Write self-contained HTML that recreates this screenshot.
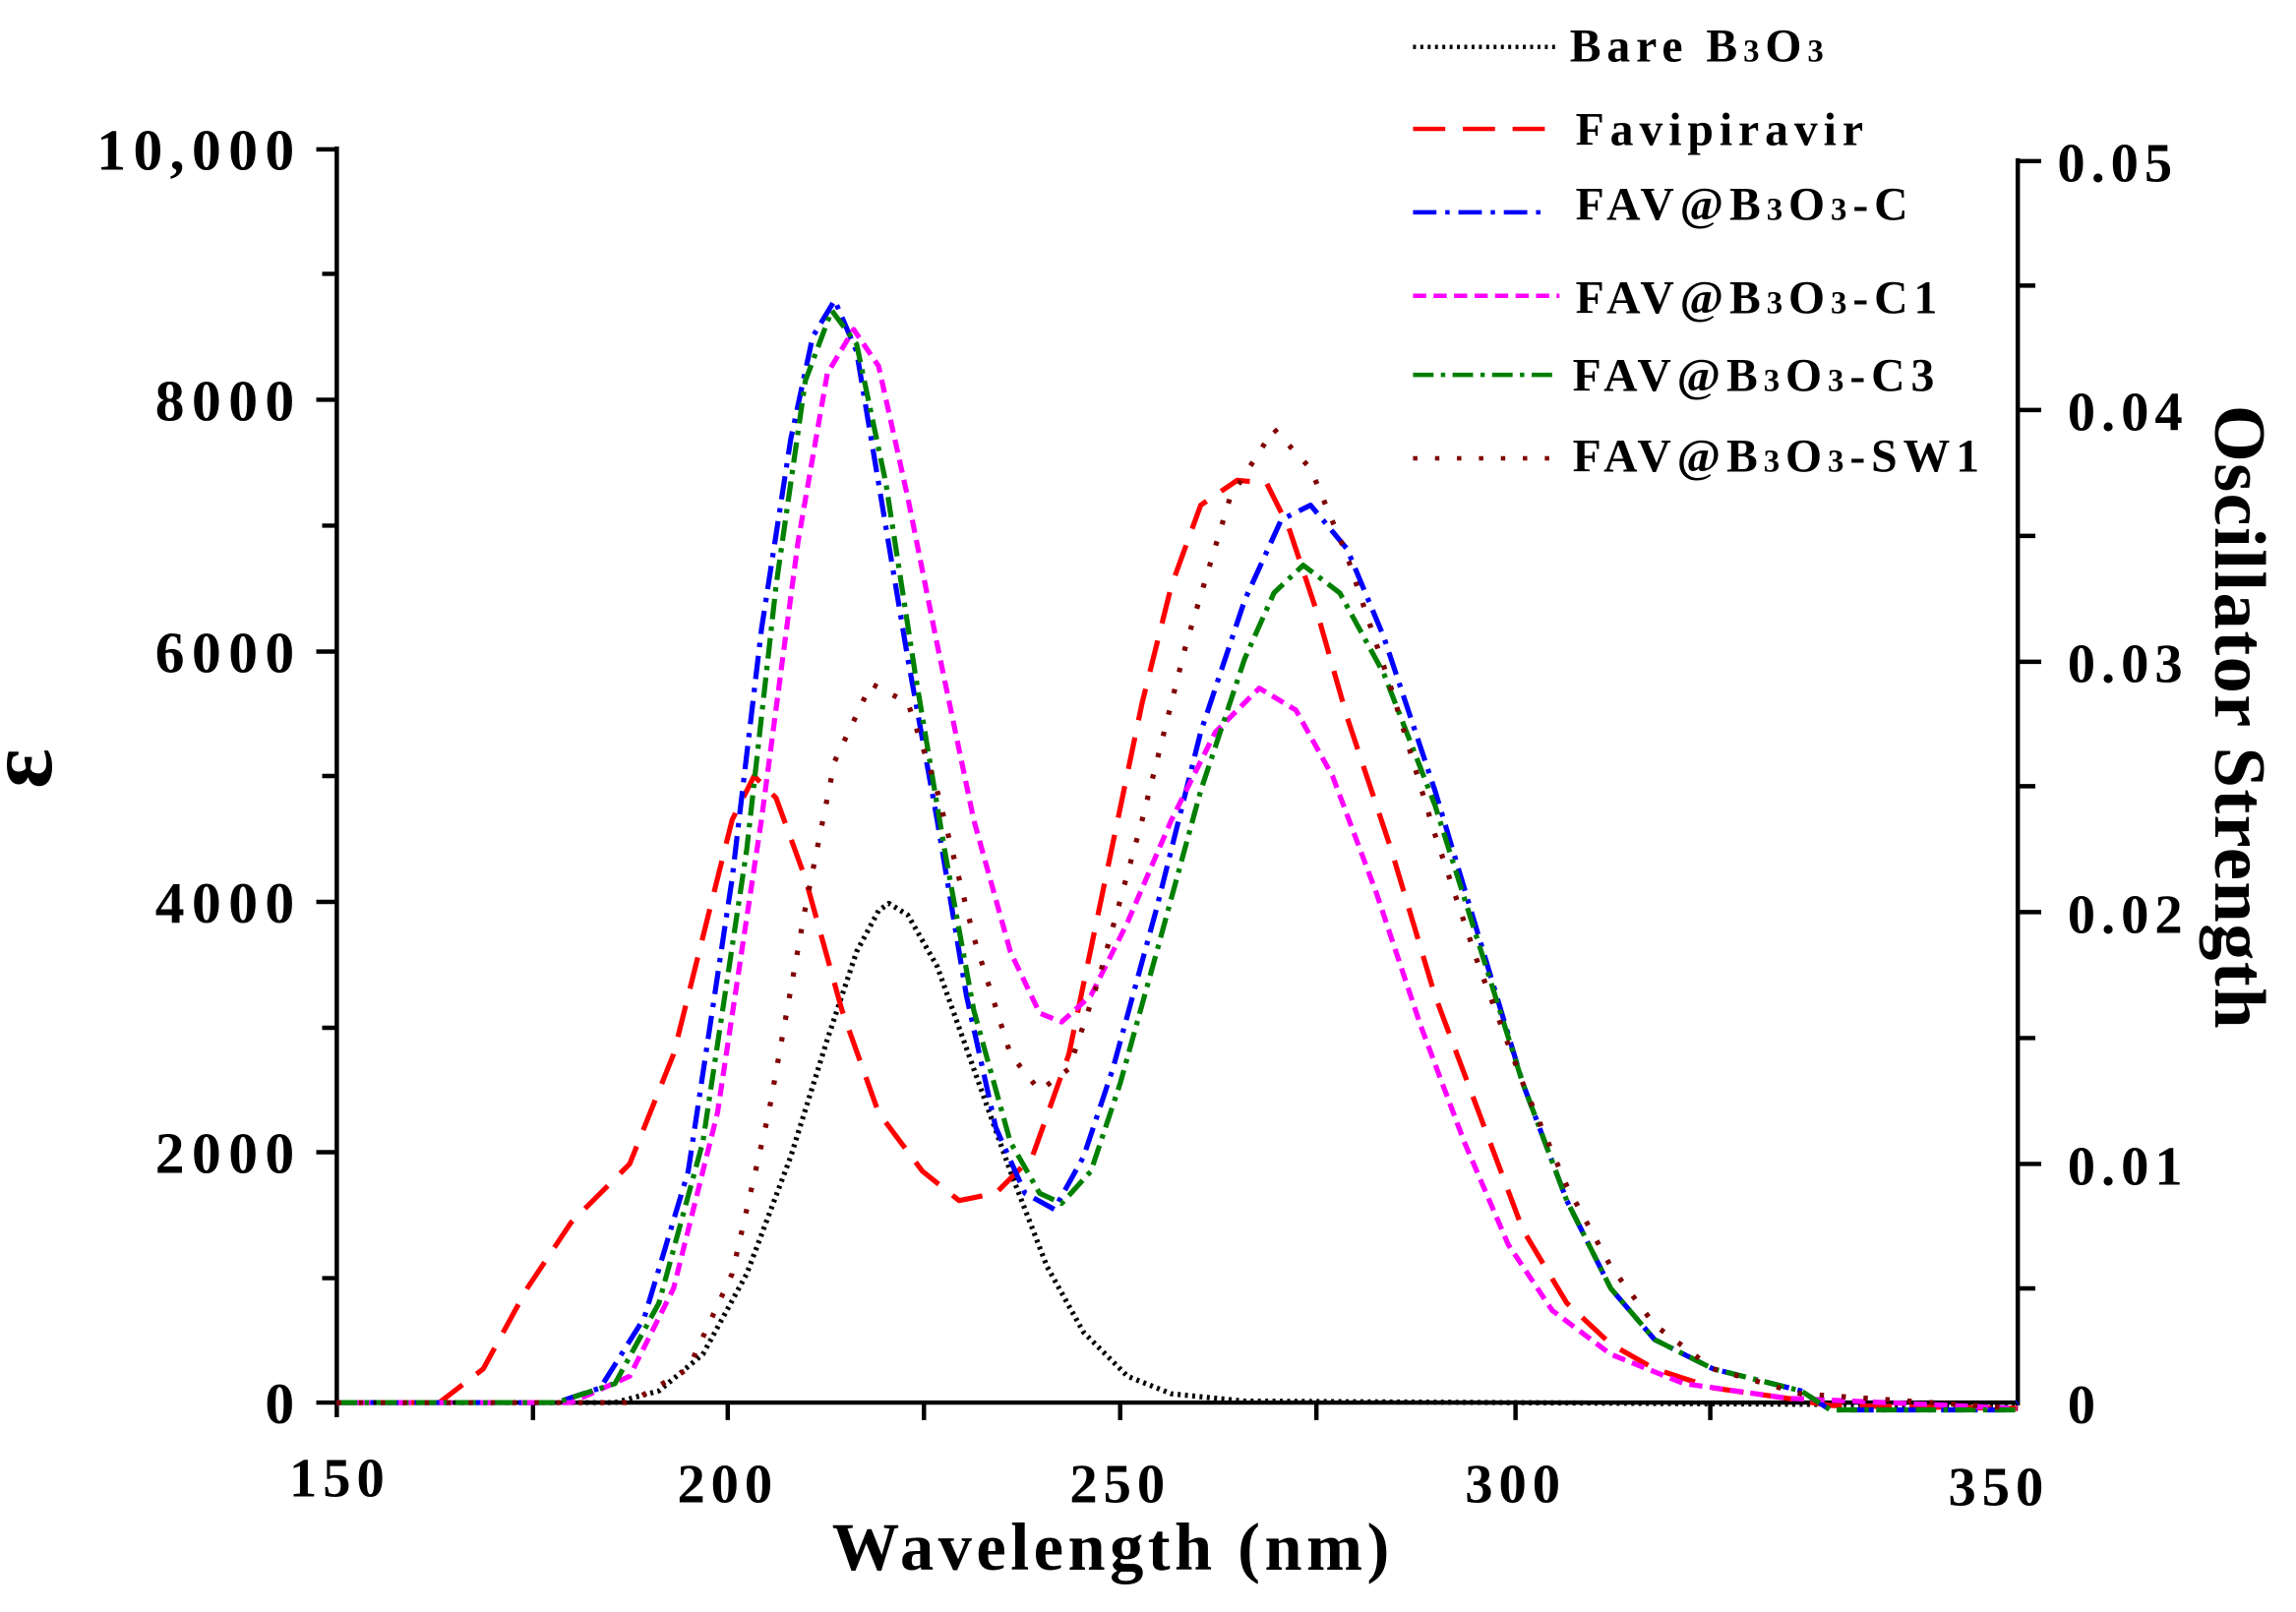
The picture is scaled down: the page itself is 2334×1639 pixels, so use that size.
<!DOCTYPE html>
<html><head><meta charset="utf-8"><style>html,body{margin:0;padding:0;background:#fff}svg{display:block}</style></head>
<body>
<svg width="2334" height="1639" viewBox="0 0 1568 1101" xmlns="http://www.w3.org/2000/svg" font-family="Liberation Serif, serif" font-weight="bold">
<rect width="1568" height="1101" fill="#fff"/>
<g stroke="#000" stroke-width="3" fill="none">
<line x1="230" y1="100" x2="230" y2="968"/>
<line x1="230" y1="958" x2="1378" y2="958"/>
<line x1="1378" y1="108" x2="1378" y2="960"/>
<path d="M216 102H230M216 273H230M216 445H230M216 616H230M216 787H230M216 958H230M220 187H230M220 359H230M220 530H230M220 702H230M220 873H230"/>
<path d="M364 958V970M497 958V970M631 958V970M765 958V970M899 958V970M1035 958V970M1168 958V970"/>
<path d="M1378 110H1394M1378 280H1394M1378 452H1394M1378 623H1394M1378 795H1394M1378 195H1390M1378 366H1390M1378 537H1390M1378 709H1390M1378 880H1390"/>
</g>
<g font-size="40" text-anchor="end" fill="#000" letter-spacing="5">
<text x="206" y="116">10,000</text><text x="206" y="287">8000</text><text x="206" y="459">6000</text><text x="206" y="630">4000</text><text x="206" y="801">2000</text><text x="206" y="972">0</text>
</g>
<g font-size="38" fill="#000" letter-spacing="4">
<text x="1405" y="124">0.05</text><text x="1412" y="294">0.04</text><text x="1412" y="466">0.03</text><text x="1412" y="637">0.02</text><text x="1412" y="809">0.01</text><text x="1412" y="972">0</text>
</g>
<g font-size="38" text-anchor="middle" fill="#000" letter-spacing="4">
<text x="232" y="1022">150</text><text x="497" y="1026">200</text><text x="765" y="1026">250</text><text x="1035" y="1026">300</text><text x="1365" y="1028">350</text>
</g>
<text x="760" y="1072" font-size="46" text-anchor="middle" letter-spacing="3">Wavelength (nm)</text>
<text transform="translate(1513,490) rotate(90)" font-size="50" text-anchor="middle" letter-spacing="1">Oscillator Strength</text>
<text transform="translate(35,525) rotate(-90)" font-size="64" text-anchor="middle">ε</text>
<g fill="none" stroke-width="3.5" stroke-linejoin="round">
<polyline stroke="#000" stroke-dasharray="2,3" points="230,958 420,958 450,950 480,925 510,870 540,790 565,710 585,650 600,622 607,617 620,625 640,660 665,730 690,800 715,865 740,910 770,940 800,952 850,957 1378,960"/>
<polyline stroke="#f00" stroke-dasharray="22,12" points="230,958 300,958 330,935 360,880 390,835 430,795 460,720 480,640 500,560 515,530 530,545 550,600 575,690 600,760 630,800 655,820 680,815 705,790 730,720 755,600 780,480 800,400 820,345 845,328 865,330 880,360 900,420 920,490 950,580 980,680 1010,760 1040,840 1070,890 1100,918 1130,935 1170,948 1220,955 1250,960 1378,962"/>
<polyline stroke="#0000ff" stroke-dasharray="16,6,3,6" points="230,958 380,958 410,948 440,900 470,800 500,600 520,430 540,300 555,230 570,205 585,240 600,330 620,450 640,560 660,680 680,770 700,815 720,826 740,790 760,730 790,620 820,500 850,410 875,355 895,345 920,375 945,435 980,540 1010,640 1040,740 1070,820 1100,880 1130,915 1170,935 1230,950 1250,963 1370,963 1378,958"/>
<polyline stroke="#f0f" stroke-dasharray="9,5" points="230,958 390,958 430,940 460,880 490,760 520,560 545,370 565,255 583,225 600,250 620,340 640,440 665,560 690,650 710,692 725,698 745,680 770,630 800,560 830,500 860,470 885,485 910,530 940,610 970,700 1000,780 1030,850 1060,895 1100,925 1150,945 1220,955 1378,962"/>
<polyline stroke="#008000" stroke-dasharray="14,5,3,5" points="230,958 380,958 420,945 450,890 480,780 510,580 530,400 550,260 568,212 585,235 605,330 625,460 645,580 665,690 690,780 710,815 725,822 745,800 765,740 790,650 820,540 850,450 870,405 890,386 915,405 945,460 980,550 1010,645 1040,740 1070,820 1100,880 1130,915 1170,935 1230,950 1250,963 1378,963"/>
<polyline stroke="#800000" stroke-dasharray="3,12" points="230,958 430,958 470,935 500,870 525,760 550,620 570,520 595,467 620,480 640,540 665,640 690,720 710,745 730,730 750,670 780,560 810,440 840,340 870,293 895,320 920,380 950,470 980,570 1010,660 1040,740 1070,810 1100,865 1130,905 1170,935 1230,952 1378,962"/>
</g>
<g stroke-width="3" fill="none">
<line x1="965" y1="32" x2="1065" y2="32" stroke="#000" stroke-dasharray="2,3"/>
<line x1="965" y1="88" x2="1065" y2="88" stroke="#f00" stroke-dasharray="22,12"/>
<line x1="965" y1="145" x2="1055" y2="145" stroke="#0000ff" stroke-dasharray="16,6,3,6"/>
<line x1="965" y1="202" x2="1065" y2="202" stroke="#f0f" stroke-dasharray="9,5"/>
<line x1="965" y1="256" x2="1065" y2="256" stroke="#008000" stroke-dasharray="14,5,3,5"/>
<line x1="965" y1="313" x2="1065" y2="313" stroke="#800000" stroke-dasharray="3,12"/>
</g>
<g font-size="32" fill="#000" letter-spacing="4">
<text x="1072" y="42">Bare B<tspan font-size="22">3</tspan>O<tspan font-size="22">3</tspan></text>
<text x="1076" y="99">Favipiravir</text>
<text x="1076" y="150">FAV@B<tspan font-size="22">3</tspan>O<tspan font-size="22">3</tspan>-C</text>
<text x="1076" y="214">FAV@B<tspan font-size="22">3</tspan>O<tspan font-size="22">3</tspan>-C1</text>
<text x="1074" y="267">FAV@B<tspan font-size="22">3</tspan>O<tspan font-size="22">3</tspan>-C3</text>
<text x="1074" y="322">FAV@B<tspan font-size="22">3</tspan>O<tspan font-size="22">3</tspan>-SW1</text>
</g>
</svg>
</body></html>
